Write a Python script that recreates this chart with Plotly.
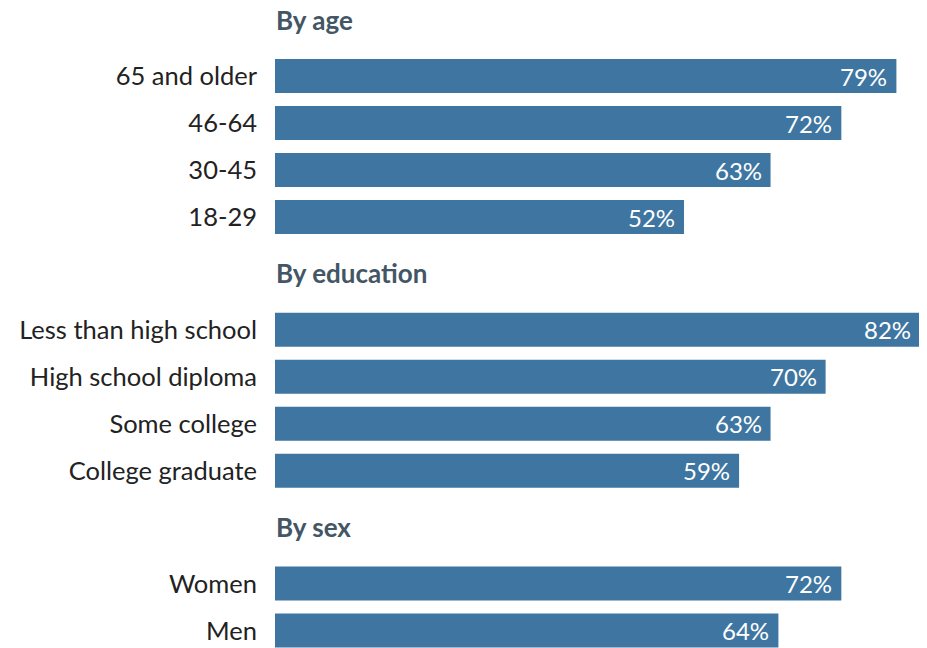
import plotly.graph_objects as go

# ---- data ----
group_titles = ["By age", "By education", "By sex"]
age_labels = ["65 and older", "46-64", "30-45", "18-29"]
age_values = [79, 72, 63, 52]
edu_labels = ["Less than high school", "High school diploma", "Some college", "College graduate"]
edu_values = [82, 70, 63, 59]
sex_labels = ["Women", "Men"]
sex_values = [72, 64]

groups = [
    (group_titles[0], age_labels, age_values),
    (group_titles[1], edu_labels, edu_values),
    (group_titles[2], sex_labels, sex_values),
]

BAR_COLOR = "#3E76A1"
HEAD_COLOR = "#435665"
FONT = "Lato, 'Open Sans', sans-serif"

# row positions (in row units, reversed axis)
ys, labels, values, head_pos = [], [], [], []
cursor = 0.0
for title, labs, vals in groups:
    head_pos.append(cursor - 1.2)
    for i, (l, v) in enumerate(zip(labs, vals)):
        ys.append(cursor + i)
        labels.append(l)
        values.append(v)
    cursor += len(labs) - 1 + 2.4

fig = go.Figure()
fig.add_trace(go.Bar(
    x=values, y=ys, orientation="h", width=0.723,
    marker=dict(color=BAR_COLOR, line=dict(width=0)),
    hoverinfo="skip",
))

annotations = []
for v, y in zip(values, ys):
    annotations.append(dict(
        x=v, y=y, xref="x", yref="y", text=f"{v}%", showarrow=False,
        xanchor="right", yanchor="middle", xshift=-7,
        font=dict(family=FONT, size=24, color="white"),
    ))
for t, hy in zip(group_titles, head_pos):
    annotations.append(dict(
        x=0, y=hy, xref="x", yref="y", text=f"<b>{t}</b>", showarrow=False,
        xanchor="left", yanchor="middle", xshift=-1,
        font=dict(family=FONT, size=26, color=HEAD_COLOR),
    ))

fig.update_layout(
    width=919, height=640,
    margin=dict(l=267, r=7, t=0, b=0),
    paper_bgcolor="white", plot_bgcolor="white",
    showlegend=False,
    annotations=annotations,
    xaxis=dict(range=[0, 82], visible=False, fixedrange=True),
    yaxis=dict(
        range=[12.17, -1.447], tickmode="array", tickvals=ys, ticktext=labels,
        showgrid=False, zeroline=False, showline=False, ticks="",
        ticklabelstandoff=17,
        tickfont=dict(family=FONT, size=25.5, color="#222222"),
    ),
)

fig.write_html("out.html")
